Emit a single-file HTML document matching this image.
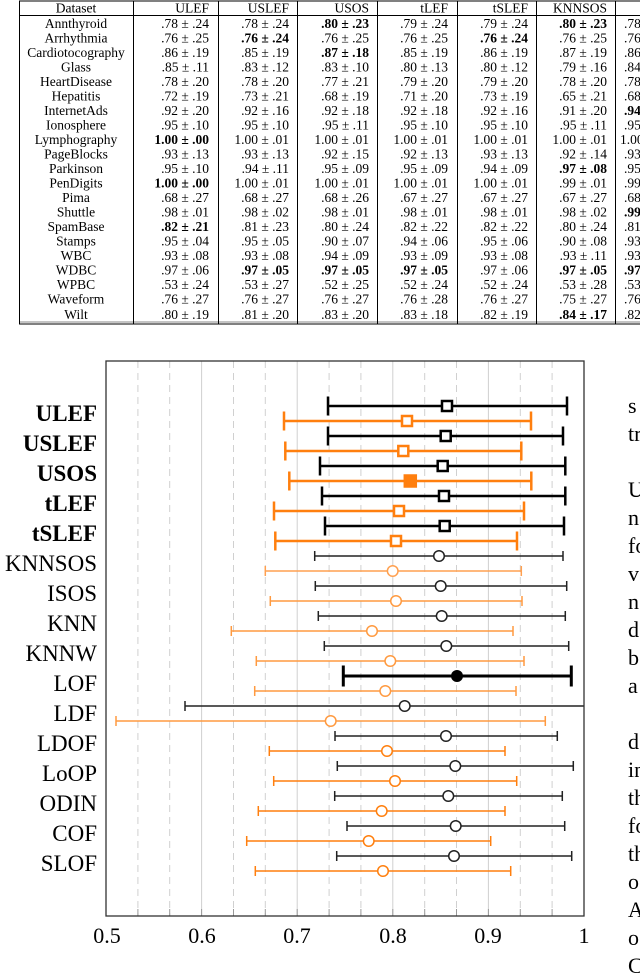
<!DOCTYPE html>
<html><head><meta charset="utf-8"><style>
html,body{margin:0;padding:0;background:#fff;}
svg{display:block;}
.t{font-family:"Liberation Serif",serif;font-size:13.5px;fill:#000;}
.b{font-weight:bold;}
.lab{font-family:"Liberation Serif",serif;font-size:23px;fill:#000;}
.tick{font-family:"Liberation Serif",serif;font-size:22px;fill:#000;}
</style></head><body>
<svg width="640" height="973" viewBox="0 0 640 973" xmlns="http://www.w3.org/2000/svg">
<!-- TABLE -->
<g stroke="#000" stroke-width="1" fill="none">
<line x1="19" y1="1" x2="640" y2="1"/>
<line x1="19" y1="15.5" x2="640" y2="15.5"/>
<line x1="19" y1="324" x2="640" y2="324"/>
<line x1="19" y1="322" x2="640" y2="322" stroke="#888"/>
<line x1="19.5" y1="1" x2="19.5" y2="324"/>
<line x1="133.5" y1="1" x2="133.5" y2="324"/>
<line x1="218.5" y1="1" x2="218.5" y2="324"/>
<line x1="297.5" y1="1" x2="297.5" y2="324"/>
<line x1="377.5" y1="1" x2="377.5" y2="324"/>
<line x1="457.5" y1="1" x2="457.5" y2="324"/>
<line x1="536.5" y1="1" x2="536.5" y2="324"/>
<line x1="615.5" y1="1" x2="615.5" y2="324"/>
</g>
<g class="t">
<text x="76" y="12.5" text-anchor="middle">Dataset</text>
<text x="209" y="12.5" text-anchor="end">ULEF</text>
<text x="289" y="12.5" text-anchor="end">USLEF</text>
<text x="369" y="12.5" text-anchor="end">USOS</text>
<text x="448" y="12.5" text-anchor="end">tLEF</text>
<text x="528" y="12.5" text-anchor="end">tSLEF</text>
<text x="607" y="12.5" text-anchor="end">KNNSOS</text>
</g>
<g class="t" text-anchor="middle">
<text x="76" y="28">Annthyroid</text>
<text x="76" y="42.5">Arrhythmia</text>
<text x="76" y="57">Cardiotocography</text>
<text x="76" y="71.5">Glass</text>
<text x="76" y="86">HeartDisease</text>
<text x="76" y="100.5">Hepatitis</text>
<text x="76" y="115">InternetAds</text>
<text x="76" y="129.5">Ionosphere</text>
<text x="76" y="144">Lymphography</text>
<text x="76" y="158.5">PageBlocks</text>
<text x="76" y="173">Parkinson</text>
<text x="76" y="187.5">PenDigits</text>
<text x="76" y="202">Pima</text>
<text x="76" y="216.5">Shuttle</text>
<text x="76" y="231">SpamBase</text>
<text x="76" y="245.5">Stamps</text>
<text x="76" y="260">WBC</text>
<text x="76" y="274.5">WDBC</text>
<text x="76" y="289">WPBC</text>
<text x="76" y="303.5">Waveform</text>
<text x="76" y="319">Wilt</text>
</g>
<g class="t" text-anchor="end">
<text x="209" y="28">.78 ± .24</text><text x="209" y="42.5">.76 ± .25</text><text x="209" y="57">.86 ± .19</text><text x="209" y="71.5">.85 ± .11</text><text x="209" y="86">.78 ± .20</text><text x="209" y="100.5">.72 ± .19</text><text x="209" y="115">.92 ± .20</text><text x="209" y="129.5">.95 ± .10</text><text x="209" y="144" class="b">1.00 ± .00</text><text x="209" y="158.5">.93 ± .13</text><text x="209" y="173">.95 ± .10</text><text x="209" y="187.5" class="b">1.00 ± .00</text><text x="209" y="202">.68 ± .27</text><text x="209" y="216.5">.98 ± .01</text><text x="209" y="231" class="b">.82 ± .21</text><text x="209" y="245.5">.95 ± .04</text><text x="209" y="260">.93 ± .08</text><text x="209" y="274.5">.97 ± .06</text><text x="209" y="289">.53 ± .24</text><text x="209" y="303.5">.76 ± .27</text><text x="209" y="319">.80 ± .19</text>
</g>
<g class="t" text-anchor="end">
<text x="289" y="28">.78 ± .24</text><text x="289" y="42.5" class="b">.76 ± .24</text><text x="289" y="57">.85 ± .19</text><text x="289" y="71.5">.83 ± .12</text><text x="289" y="86">.78 ± .20</text><text x="289" y="100.5">.73 ± .21</text><text x="289" y="115">.92 ± .16</text><text x="289" y="129.5">.95 ± .10</text><text x="289" y="144">1.00 ± .01</text><text x="289" y="158.5">.93 ± .13</text><text x="289" y="173">.94 ± .11</text><text x="289" y="187.5">1.00 ± .01</text><text x="289" y="202">.68 ± .27</text><text x="289" y="216.5">.98 ± .02</text><text x="289" y="231">.81 ± .23</text><text x="289" y="245.5">.95 ± .05</text><text x="289" y="260">.93 ± .08</text><text x="289" y="274.5" class="b">.97 ± .05</text><text x="289" y="289">.53 ± .27</text><text x="289" y="303.5">.76 ± .27</text><text x="289" y="319">.81 ± .20</text>
</g>
<g class="t" text-anchor="end">
<text x="369" y="28" class="b">.80 ± .23</text><text x="369" y="42.5">.76 ± .25</text><text x="369" y="57" class="b">.87 ± .18</text><text x="369" y="71.5">.83 ± .10</text><text x="369" y="86">.77 ± .21</text><text x="369" y="100.5">.68 ± .19</text><text x="369" y="115">.92 ± .18</text><text x="369" y="129.5">.95 ± .11</text><text x="369" y="144">1.00 ± .01</text><text x="369" y="158.5">.92 ± .15</text><text x="369" y="173">.95 ± .09</text><text x="369" y="187.5">1.00 ± .01</text><text x="369" y="202">.68 ± .26</text><text x="369" y="216.5">.98 ± .01</text><text x="369" y="231">.80 ± .24</text><text x="369" y="245.5">.90 ± .07</text><text x="369" y="260">.94 ± .09</text><text x="369" y="274.5" class="b">.97 ± .05</text><text x="369" y="289">.52 ± .25</text><text x="369" y="303.5">.76 ± .27</text><text x="369" y="319">.83 ± .20</text>
</g>
<g class="t" text-anchor="end">
<text x="448" y="28">.79 ± .24</text><text x="448" y="42.5">.76 ± .25</text><text x="448" y="57">.85 ± .19</text><text x="448" y="71.5">.80 ± .13</text><text x="448" y="86">.79 ± .20</text><text x="448" y="100.5">.71 ± .20</text><text x="448" y="115">.92 ± .18</text><text x="448" y="129.5">.95 ± .10</text><text x="448" y="144">1.00 ± .01</text><text x="448" y="158.5">.92 ± .13</text><text x="448" y="173">.95 ± .09</text><text x="448" y="187.5">1.00 ± .01</text><text x="448" y="202">.67 ± .27</text><text x="448" y="216.5">.98 ± .01</text><text x="448" y="231">.82 ± .22</text><text x="448" y="245.5">.94 ± .06</text><text x="448" y="260">.93 ± .09</text><text x="448" y="274.5" class="b">.97 ± .05</text><text x="448" y="289">.52 ± .24</text><text x="448" y="303.5">.76 ± .28</text><text x="448" y="319">.83 ± .18</text>
</g>
<g class="t" text-anchor="end">
<text x="528" y="28">.79 ± .24</text><text x="528" y="42.5" class="b">.76 ± .24</text><text x="528" y="57">.86 ± .19</text><text x="528" y="71.5">.80 ± .12</text><text x="528" y="86">.79 ± .20</text><text x="528" y="100.5">.73 ± .19</text><text x="528" y="115">.92 ± .16</text><text x="528" y="129.5">.95 ± .10</text><text x="528" y="144">1.00 ± .01</text><text x="528" y="158.5">.93 ± .13</text><text x="528" y="173">.94 ± .09</text><text x="528" y="187.5">1.00 ± .01</text><text x="528" y="202">.67 ± .27</text><text x="528" y="216.5">.98 ± .01</text><text x="528" y="231">.82 ± .22</text><text x="528" y="245.5">.95 ± .06</text><text x="528" y="260">.93 ± .08</text><text x="528" y="274.5">.97 ± .06</text><text x="528" y="289">.52 ± .24</text><text x="528" y="303.5">.76 ± .27</text><text x="528" y="319">.82 ± .19</text>
</g>
<g class="t" text-anchor="end">
<text x="607" y="28" class="b">.80 ± .23</text><text x="607" y="42.5">.76 ± .25</text><text x="607" y="57">.87 ± .19</text><text x="607" y="71.5">.79 ± .16</text><text x="607" y="86">.78 ± .20</text><text x="607" y="100.5">.65 ± .21</text><text x="607" y="115">.91 ± .20</text><text x="607" y="129.5">.95 ± .11</text><text x="607" y="144">1.00 ± .01</text><text x="607" y="158.5">.92 ± .14</text><text x="607" y="173" class="b">.97 ± .08</text><text x="607" y="187.5">.99 ± .01</text><text x="607" y="202">.67 ± .27</text><text x="607" y="216.5">.98 ± .02</text><text x="607" y="231">.80 ± .24</text><text x="607" y="245.5">.90 ± .08</text><text x="607" y="260">.93 ± .11</text><text x="607" y="274.5" class="b">.97 ± .05</text><text x="607" y="289">.53 ± .28</text><text x="607" y="303.5">.75 ± .27</text><text x="607" y="319" class="b">.84 ± .17</text>
</g>
<g class="t">
<text x="624" y="28">.78</text><text x="624" y="42.5">.76</text><text x="624" y="57">.86</text><text x="624" y="71.5">.84</text><text x="624" y="86">.78</text><text x="624" y="100.5">.68</text><text x="624" y="115" class="b">.94</text><text x="624" y="129.5">.95</text><text x="620" y="144">1.00</text><text x="624" y="158.5">.93</text><text x="624" y="173">.95</text><text x="624" y="187.5">.99</text><text x="624" y="202">.68</text><text x="624" y="216.5" class="b">.99</text><text x="624" y="231">.81</text><text x="624" y="245.5">.93</text><text x="624" y="260">.93</text><text x="624" y="274.5" class="b">.97</text><text x="624" y="289">.53</text><text x="624" y="303.5">.76</text><text x="624" y="319">.82</text>
</g>

<!-- CHART gridlines -->
<g stroke="#d0d0d0" stroke-width="1">
<line x1="201.6" y1="361" x2="201.6" y2="916"/>
<line x1="297.2" y1="361" x2="297.2" y2="916"/>
<line x1="392.8" y1="361" x2="392.8" y2="916"/>
<line x1="488.4" y1="361" x2="488.4" y2="916"/>
</g>
<g stroke="#d0d0d0" stroke-width="1" stroke-dasharray="7,5">
<line x1="137.9" y1="361" x2="137.9" y2="916"/>
<line x1="169.7" y1="361" x2="169.7" y2="916"/>
<line x1="233.5" y1="361" x2="233.5" y2="916"/>
<line x1="265.3" y1="361" x2="265.3" y2="916"/>
<line x1="329.1" y1="361" x2="329.1" y2="916"/>
<line x1="360.9" y1="361" x2="360.9" y2="916"/>
<line x1="424.7" y1="361" x2="424.7" y2="916"/>
<line x1="456.5" y1="361" x2="456.5" y2="916"/>
<line x1="520.3" y1="361" x2="520.3" y2="916"/>
<line x1="552.1" y1="361" x2="552.1" y2="916"/>
</g>
<!-- axis ticks -->
<g stroke="#999" stroke-width="1">
<path d="M137.9 916v-7M169.7 916v-7M201.6 916v-7M233.5 916v-7M265.3 916v-7M297.2 916v-7M329.1 916v-7M360.9 916v-7M392.8 916v-7M424.7 916v-7M456.5 916v-7M488.4 916v-7M520.3 916v-7M552.1 916v-7"/>
</g>

<!-- thick rows -->
<g fill="none" stroke-width="2.5">
<g stroke="#000"><path d="M328 406H567M328 396.5V415.5M567 396.5V415.5"/><rect x="442" y="401" width="10" height="10" fill="#fff"/></g>
<g stroke="#ff7f0e"><path d="M284 421H531M284 411.5V430.5M531 411.5V430.5"/><rect x="402" y="416" width="10" height="10" fill="#fff"/></g>
<g stroke="#000"><path d="M328 436H563M328 426.5V445.5M563 426.5V445.5"/><rect x="440.7" y="431" width="10" height="10" fill="#fff"/></g>
<g stroke="#ff7f0e"><path d="M285.3 451H521.3M285.3 441.5V460.5M521.3 441.5V460.5"/><rect x="398.3" y="446" width="10" height="10" fill="#fff"/></g>
<g stroke="#000"><path d="M320 466H565.3M320 456.5V475.5M565.3 456.5V475.5"/><rect x="437.7" y="461" width="10" height="10" fill="#fff"/></g>
<g stroke="#ff7f0e"><path d="M289.3 481H531.3M289.3 471.5V490.5M531.3 471.5V490.5"/><rect x="404.8" y="475.5" width="11" height="11" fill="#ff7f0e"/></g>
<g stroke="#000"><path d="M322 496H565.3M322 486.5V505.5M565.3 486.5V505.5"/><rect x="439" y="491" width="10" height="10" fill="#fff"/></g>
<g stroke="#ff7f0e"><path d="M274 511H524M274 501.5V520.5M524 501.5V520.5"/><rect x="394" y="506" width="10" height="10" fill="#fff"/></g>
<g stroke="#000"><path d="M325 526H564M325 516.5V535.5M564 516.5V535.5"/><rect x="439.7" y="521" width="10" height="10" fill="#fff"/></g>
<g stroke="#ff7f0e"><path d="M275.3 541H517M275.3 531.5V550.5M517 531.5V550.5"/><rect x="391" y="536" width="10" height="10" fill="#fff"/></g>
<g stroke="#000" stroke-width="3"><path d="M343.3 676H571.3M343.3 665.5V686.5M571.3 665.5V686.5"/></g>
<circle cx="457" cy="676" r="6" fill="#000"/>
</g>

<!-- thin rows -->
<g fill="none" stroke-width="1.5">
<g stroke="#222"><path d="M314.7 556H563M314.7 551V561M563 551V561"/><circle cx="439" cy="556" r="5.3" fill="#fff"/></g>
<g stroke="#ffa050"><path d="M265.3 571H521.3M265.3 566V576M521.3 566V576"/><circle cx="392.7" cy="571" r="5.3" fill="#fff"/></g>
<g stroke="#222"><path d="M315.3 586H566.7M315.3 581V591M566.7 581V591"/><circle cx="440.7" cy="586" r="5.3" fill="#fff"/></g>
<g stroke="#ff9a40"><path d="M270.3 601H522M270.3 596V606M522 596V606"/><circle cx="396" cy="601" r="5.3" fill="#fff"/></g>
<g stroke="#222"><path d="M318.3 616H565.3M318.3 611V621M565.3 611V621"/><circle cx="441.7" cy="616" r="5.3" fill="#fff"/></g>
<g stroke="#ff9a40"><path d="M231.3 631H513M231.3 626V636M513 626V636"/><circle cx="372" cy="631" r="5.3" fill="#fff"/></g>
<g stroke="#222"><path d="M324.3 646H568.7M324.3 641V651M568.7 641V651"/><circle cx="446.3" cy="646" r="5.3" fill="#fff"/></g>
<g stroke="#ff9a40"><path d="M256.3 661H524M256.3 656V666M524 656V666"/><circle cx="390.3" cy="661" r="5.3" fill="#fff"/></g>
<g stroke="#ff9a40"><path d="M254.7 691H516M254.7 686V696M516 686V696"/><circle cx="385.3" cy="691" r="5.3" fill="#fff"/></g>
<g stroke="#222"><path d="M185 706H584M185 701V711"/><circle cx="404.7" cy="706" r="5.3" fill="#fff"/></g>
<g stroke="#ff9a40"><path d="M116 721H545.3M116 716V726M545.3 716V726"/><circle cx="330.7" cy="721" r="5.3" fill="#fff"/></g>
<g stroke="#222"><path d="M335 736H557.3M335 731V741M557.3 731V741"/><circle cx="446" cy="736" r="5.3" fill="#fff"/></g>
<g stroke="#ff7f0e"><path d="M269.3 751H505M269.3 746V756M505 746V756"/><circle cx="387" cy="751" r="5.3" fill="#fff"/></g>
<g stroke="#222"><path d="M337.3 766H573.3M337.3 761V771M573.3 761V771"/><circle cx="455.3" cy="766" r="5.3" fill="#fff"/></g>
<g stroke="#ff7f0e"><path d="M273.7 781H516.7M273.7 776V786M516.7 776V786"/><circle cx="395" cy="781" r="5.3" fill="#fff"/></g>
<g stroke="#222"><path d="M334.7 796H562.3M334.7 791V801M562.3 791V801"/><circle cx="448.3" cy="796" r="5.3" fill="#fff"/></g>
<g stroke="#ff7f0e"><path d="M258.3 811H505M258.3 806V816M505 806V816"/><circle cx="381.7" cy="811" r="5.3" fill="#fff"/></g>
<g stroke="#222"><path d="M347 826H564.7M347 821V831M564.7 821V831"/><circle cx="455.7" cy="826" r="5.3" fill="#fff"/></g>
<g stroke="#ff7f0e"><path d="M246.7 841H490.7M246.7 836V846M490.7 836V846"/><circle cx="368.7" cy="841" r="5.3" fill="#fff"/></g>
<g stroke="#222"><path d="M336.7 856H571.7M336.7 851V861M571.7 851V861"/><circle cx="454" cy="856" r="5.3" fill="#fff"/></g>
<g stroke="#ff7f0e"><path d="M255.3 871H510.7M255.3 866V876M510.7 866V876"/><circle cx="383" cy="871" r="5.3" fill="#fff"/></g>
</g>

<!-- frame -->
<rect x="106" y="361" width="478" height="555" fill="none" stroke="#333" stroke-width="1.3"/>

<!-- tick labels -->
<g class="tick" text-anchor="middle">
<text x="107" y="943">0.5</text>
<text x="202" y="943">0.6</text>
<text x="297" y="943">0.7</text>
<text x="393" y="943">0.8</text>
<text x="488" y="943">0.9</text>
<text x="584" y="943">1</text>
</g>

<!-- row labels -->
<g class="lab" text-anchor="end">
<text x="97" y="421" class="b">ULEF</text>
<text x="97" y="451" class="b">USLEF</text>
<text x="97" y="481" class="b">USOS</text>
<text x="97" y="511" class="b">tLEF</text>
<text x="97" y="541" class="b">tSLEF</text>
<text x="97" y="571">KNNSOS</text>
<text x="97" y="601">ISOS</text>
<text x="97" y="631">KNN</text>
<text x="97" y="661">KNNW</text>
<text x="97" y="691">LOF</text>
<text x="97" y="721">LDF</text>
<text x="97" y="751">LDOF</text>
<text x="97" y="781">LoOP</text>
<text x="97" y="811">ODIN</text>
<text x="97" y="841">COF</text>
<text x="97" y="871">SLOF</text>
</g>

<!-- right side body text fragments -->
<g class="tick">
<text x="628" y="413">s</text>
<text x="628" y="441">tr</text>
<text x="628" y="497">U</text>
<text x="628" y="525">n</text>
<text x="628" y="553">fo</text>
<text x="628" y="581">v</text>
<text x="628" y="609">n</text>
<text x="628" y="637">d</text>
<text x="628" y="665">b</text>
<text x="628" y="693">a</text>
<text x="628" y="749">d</text>
<text x="628" y="777">in</text>
<text x="628" y="805">th</text>
<text x="628" y="833">fo</text>
<text x="628" y="861">th</text>
<text x="628" y="889">o</text>
<text x="628" y="917">A</text>
<text x="628" y="945">o</text>
<text x="628" y="973">C</text>
</g>
</svg>
</body></html>
